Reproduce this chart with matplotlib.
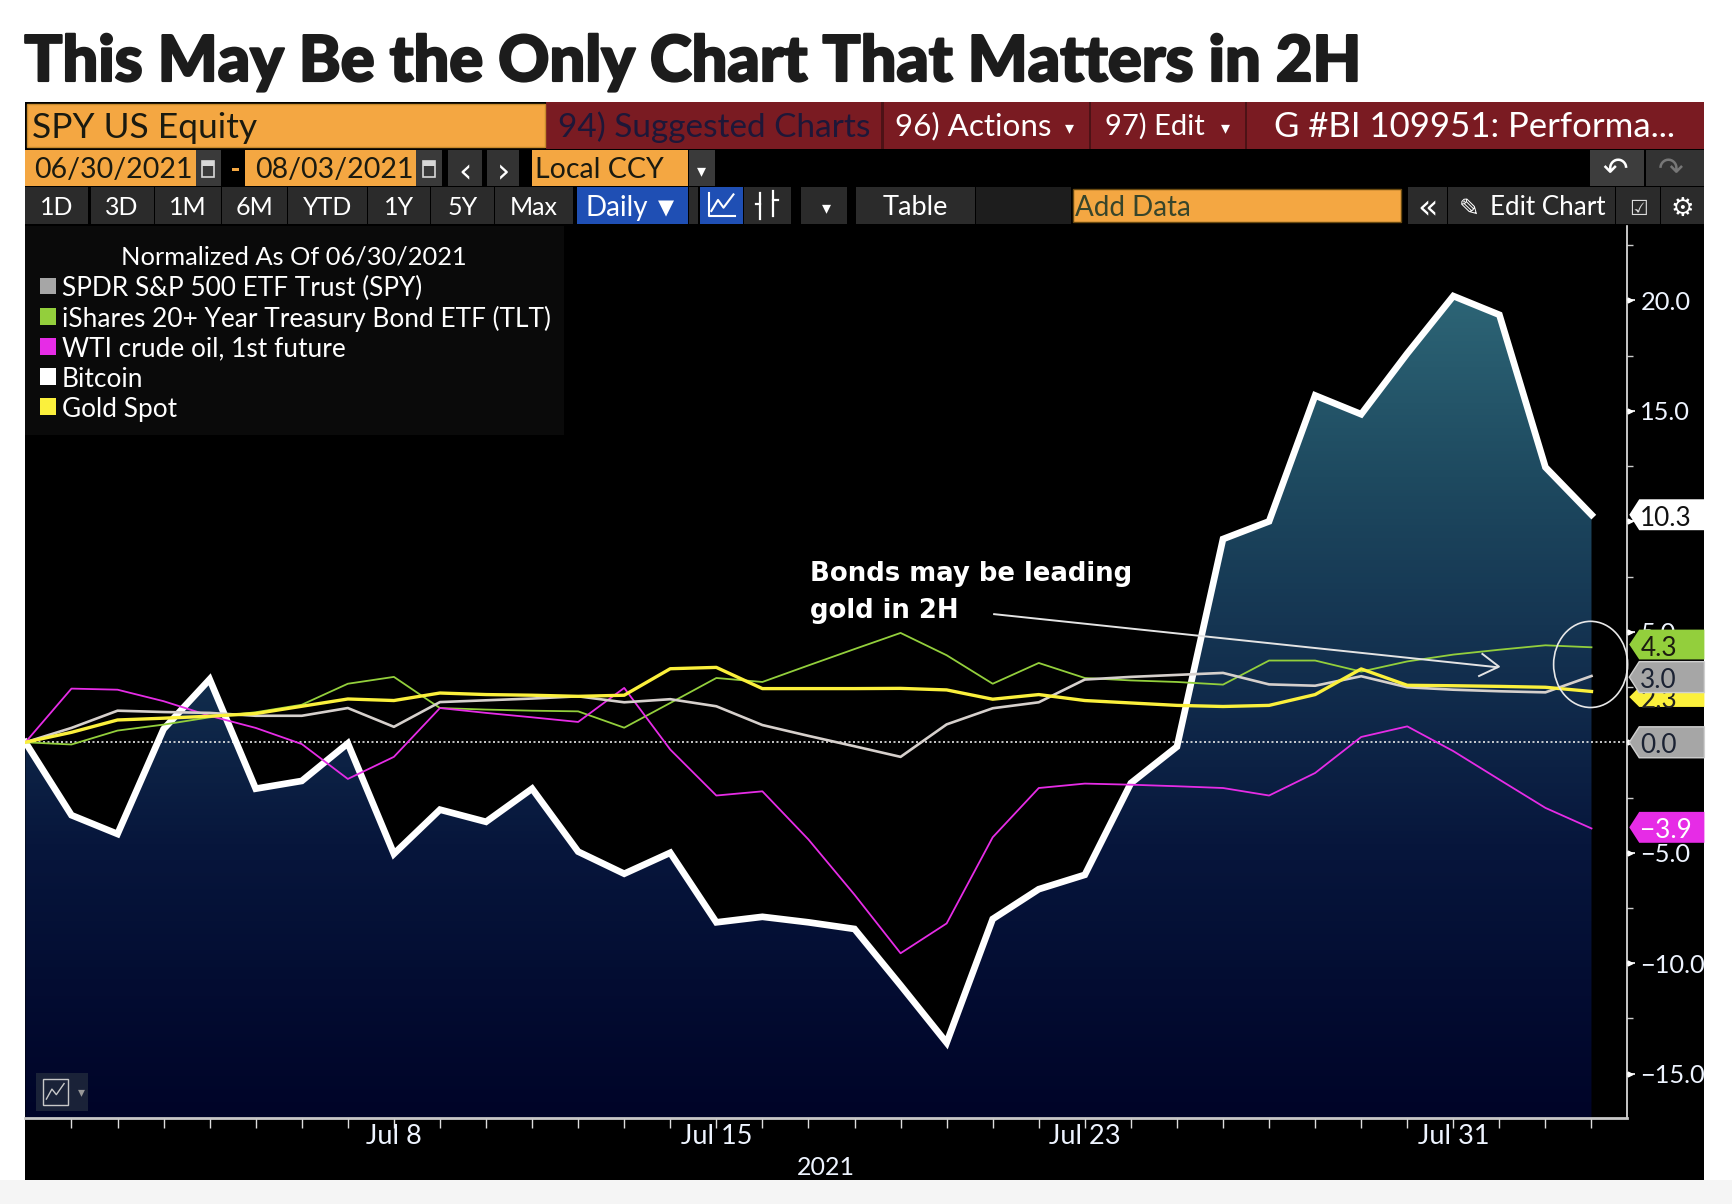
import numpy as np
import matplotlib
matplotlib.use('Agg')
import matplotlib.pyplot as plt
import matplotlib.patheffects as pe
from matplotlib.colors import LinearSegmentedColormap
from matplotlib.patches import Rectangle, Polygon, Ellipse

# days since 06/30/2021
days = np.arange(35)
bitcoin = [0, -3.3, -4.15, 0.6, 2.85, -2.1, -1.75, -0.05, -5.05, -3.05, -3.6, -2.1, -4.95, -5.95, -5.0,
           -8.15, -7.9, -8.15, -8.45, -11.0, -13.6, -8.0, -6.65, -6.0, -1.85, -0.2, 9.2, 10.0, 15.7,
           14.85, 17.6, 20.2, 19.35, 12.45, 10.3]
spy = [0, 0.65, 1.43, 1.37, 1.33, 1.2, 1.2, 1.55, 0.7, 1.82, 1.9, 1.98, 2.08, 1.81, 1.95,
       1.63, 0.78, 0.29, -0.18, -0.66, 0.81, 1.54, 1.81, 2.84, 2.96, 3.05, 3.14, 2.62, 2.56,
       2.99, 2.49, 2.38, 2.31, 2.26, 3.0]
tlt = [0, -0.1, 0.53, 0.8, 1.13, 1.36, 1.7, 2.65, 2.96, 1.55, 1.48, 1.43, 1.4, 0.66, 1.78,
       2.91, 2.73, 3.48, 4.22, 4.95, 3.94, 2.65, 3.59, 2.91, 2.8, 2.73, 2.61, 3.7, 3.7,
       3.2, 3.66, 3.97, 4.19, 4.39, 4.3]
wti = [0, 2.43, 2.38, 1.86, 1.2, 0.65, -0.08, -1.66, -0.66, 1.55, 1.33, 1.13, 0.92, 2.46, -0.33,
       -2.41, -2.22, -4.4, -6.9, -9.55, -8.2, -4.3, -2.07, -1.87, -1.92, -1.99, -2.07, -2.41, -1.39,
       0.24, 0.72, -0.4, -1.69, -2.97, -3.9]
gold = [0, 0.45, 1.01, 1.09, 1.18, 1.3, 1.63, 1.96, 1.89, 2.23, 2.16, 2.13, 2.08, 2.13, 3.33,
        3.39, 2.43, 2.43, 2.43, 2.44, 2.37, 1.95, 2.16, 1.89, 1.78, 1.67, 1.62, 1.67, 2.16,
        3.32, 2.58, 2.56, 2.53, 2.49, 2.3]

y_major = [20, 15, 10, 5, 0, -5, -10, -15]
y_minor = [22.5, 17.5, 12.5, 7.5, 2.5, -2.5, -7.5, -12.5]
y_labels = ['20.0', '15.0', '5.0', '\u22125.0', '\u221210.0', '\u221215.0']
y_label_vals = [20, 15, 5, -5, -10, -15]
x_tick_days = [8, 15, 23, 31]
x_tick_labels = ['Jul 8', 'Jul 15', 'Jul 23', 'Jul 31']

legend_names = ['SPDR S&P 500 ETF Trust (SPY)', 'iShares 20+ Year Treasury Bond ETF (TLT)',
                'WTI crude oil, 1st future', 'Bitcoin', 'Gold Spot']
range_buttons = ['1D', '3D', '1M', '6M', 'YTD', '1Y', '5Y', 'Max']

WHITE = '#ffffff'
GREY = '#a6a6a6'
GREEN = '#93cf3c'
MAGENTA = '#e62ce6'
YELLOW = '#fbf03c'
ORANGE = '#f4a742'
RED = '#7a1b22'
BTN = '#2b2b2b'
BLUE = '#1f4fb4'
UI_FONT = ['Lato', 'DejaVu Sans']

W, H = 1568.0, 1090.0  # layout coordinates, scaled to the output size

fig = plt.figure(figsize=(17.32, 12.04), dpi=100, facecolor='white')

# overlay for the terminal chrome, y goes down
ui = fig.add_axes([0, 0, 1, 1], zorder=0)
ui.set_xlim(0, W)
ui.set_ylim(H, 0)
ui.axis('off')

top = fig.add_axes([0, 0, 1, 1], zorder=5)
top.set_xlim(0, W)
top.set_ylim(H, 0)
top.axis('off')
top.patch.set_alpha(0)


def box(x0, x1, y0, y1, color, edge='none', lw=0, ax=ui, z=1):
    ax.add_patch(Rectangle((x0, y0), x1 - x0, y1 - y0, facecolor=color, edgecolor=edge, linewidth=lw, zorder=z))


def label(x, y, s, size=24, color=WHITE, ha='left', ax=ui, z=3, **kw):
    ax.text(x, y, s, fontsize=size, color=color, ha=ha, va='center_baseline', zorder=z,
            family=kw.pop('family', UI_FONT), **kw)


ui.add_patch(Rectangle((0, 1068), W, H - 1068, facecolor='#f5f5f5', edgecolor='none'))
box(23, 1543, 92, 1068, '#000000')
ui.text(22, 57, 'This May Be the Only Chart That Matters in 2H', fontsize=45.5, fontweight='black',
        color='#1c1c1c', family=['Lato', 'DejaVu Sans'], ha='left', va='center',
        path_effects=[pe.withStroke(linewidth=1.6, foreground='#1c1c1c')])

# row 1
box(494, 1543, 92, 135, RED)
box(24, 493, 94, 133, ORANGE, edge='#c88a2c', lw=1)
label(29, 113, 'SPY US Equity', size=25.5, color='#1a1a10')
label(505, 112, '94) Suggested Charts', size=24, color='#1e1738')
box(798, 800, 92, 135, '#4d1216')
box(986, 988, 92, 135, '#4d1216')
box(1127, 1129, 92, 135, '#4d1216')
label(810, 112, '96) Actions', size=22.6)
label(968, 114, '\u25be', size=13, ha='center', family=['DejaVu Sans'])
label(1000, 112, '97) Edit', size=21)
label(1109, 114, '\u25be', size=13, ha='center', family=['DejaVu Sans'])
label(1153, 112, 'G #BI 109951: Performa...', size=25)

# row 2
for x0, x1, s in [(23, 177, '06/30/2021'), (222, 377, '08/03/2021')]:
    box(x0, x1, 136, 168, ORANGE)
    label(31 if x0 == 23 else 231, 152, s, size=20.5, color='#1a1a10')
    box(x1, x1 + 23, 136, 168, '#3a3a3a')
    box(x1 + 6, x1 + 17, 146, 160, '#3a3a3a', edge='#d8d8d8', lw=1.2)
    box(x1 + 6, x1 + 17, 146, 150, '#d8d8d8')
box(210, 216, 152, 155, ORANGE)
box(406, 436, 136, 168, '#333333')
box(441, 470, 136, 168, '#333333')
label(421, 153, '\u2039', size=24, ha='center', family=['DejaVu Sans'])
label(456, 153, '\u203a', size=24, ha='center', family=['DejaVu Sans'])
box(482, 623, 136, 168, ORANGE)
label(484, 152, 'Local CCY', size=20.5, color='#1a1a10')
box(624, 647, 136, 168, '#3a3a3a')
label(635, 153, '\u25be', size=13, ha='center', family=['DejaVu Sans'])
box(1439, 1488, 136, 168, '#3d3d3d')
box(1490, 1543, 136, 168, '#333333')
label(1462, 152, '\u21b6', size=22, ha='center', family=['DejaVu Sans'])
label(1512, 152, '\u21b7', size=22, ha='center', color='#777777', family=['DejaVu Sans'])

# row 3
btn_edges = [(23, 80), (82, 139), (140, 200), (201, 260), (261, 332), (333, 389), (390, 447), (448, 519)]
for (x0, x1), s in zip(btn_edges, range_buttons):
    box(x0, x1, 169, 203, BTN)
    label((x0 + x1) / 2, 186, s, size=18, ha='center')
box(522, 623, 169, 203, BLUE)
label(530, 186, 'Daily', size=20)
label(603, 187, '\u25bc', size=15, ha='center', family=['DejaVu Sans'])
box(624, 632, 169, 203, BTN)
box(634, 673, 169, 203, BLUE)
ui.plot([642, 642, 665], [175, 196, 196], color=WHITE, lw=1.5, zorder=3)
ui.plot([644, 650, 655, 664], [191, 181, 188, 176], color=WHITE, lw=1.5, zorder=3)
box(674, 716, 169, 203, BTN)
ui.plot([688, 688], [175, 198], color=WHITE, lw=1.6, zorder=3)
ui.plot([700, 700], [173, 196], color=WHITE, lw=1.6, zorder=3)
ui.plot([684, 688], [185, 185], color=WHITE, lw=1.6, zorder=3)
ui.plot([700, 704], [181, 181], color=WHITE, lw=1.6, zorder=3)
box(725, 767, 169, 203, BTN)
label(748, 187, '\u25be', size=13, ha='center', family=['DejaVu Sans'])
box(775, 883, 169, 203, BTN)
label(829, 186, 'Table', size=19.5, ha='center')
box(884, 970, 169, 203, '#1d1d1d')
box(971, 1268, 171, 201, ORANGE, edge='#6a4a10', lw=1)
label(973, 186, 'Add Data', size=20, color='#37452b')
box(1275, 1310, 169, 203, BTN)
label(1292, 186, '\u00ab', size=24, ha='center', family=['DejaVu Sans'])
box(1311, 1462, 169, 203, BTN)
label(1330, 187, '\u270e', size=18, ha='center', family=['DejaVu Sans'])
label(1349, 186, 'Edit Chart', size=18.7)
box(1463, 1503, 169, 203, BTN)
label(1483, 187, '\u2611', size=15, ha='center', family=['DejaVu Sans'], color='#dddddd')
box(1504, 1543, 169, 203, BTN)
label(1523, 186, '\u2699', size=19, ha='center', family=['DejaVu Sans'])

# main chart, y axis is 20 layout px per unit, one day is 41.7 px
ax_l, ax_r, ax_t, ax_b = 23, 1473, 205, 1012
ax = fig.add_axes([ax_l / W, 1 - ax_b / H, (ax_r - ax_l) / W, (ax_b - ax_t) / H], zorder=2)
ax.set_facecolor('#000000')
ax.set_xlim(0, (ax_r - ax_l) / 41.7)
ax.set_ylim((672 - ax_b) / 20, (672 - ax_t) / 20)

cmap = LinearSegmentedColormap.from_list('area', [(0.0, '#000428'), (0.33, '#07163c'), (0.52, '#112c4c'),
                                                  (0.78, '#1e4a60'), (1.0, '#2d6576')])
poly = ax.fill_between(days, bitcoin, ax.get_ylim()[0], color='none')
grad = ax.imshow(np.linspace(1, 0, 256).reshape(-1, 1), cmap=cmap, aspect='auto',
                 extent=[0, 34, ax.get_ylim()[0], 20.3], zorder=1)
grad.set_clip_path(poly.get_paths()[0], transform=ax.transData)
ax.set_xlim(0, (ax_r - ax_l) / 41.7)
ax.set_ylim((672 - ax_b) / 20, (672 - ax_t) / 20)

ax.axhline(0, color='#e8e8e8', lw=1.2, ls=(0, (1.2, 1.5)), zorder=2)
ax.plot(days, bitcoin, color=WHITE, lw=4.8, zorder=3, solid_joinstyle='miter')
ax.plot(days, tlt, color=GREEN, lw=1.3, zorder=4)
ax.plot(days, wti, color=MAGENTA, lw=1.3, zorder=4)
ax.plot(days, spy, color='#d6d0cc', lw=1.9, zorder=5)
ax.plot(days, gold, color=YELLOW, lw=2.4, zorder=6)

for s in ['top', 'left']:
    ax.spines[s].set_visible(False)
ax.spines['right'].set_color('#e8e8e8')
ax.spines['right'].set_linewidth(1.2)
ax.spines['bottom'].set_color('#c8c8c8')
ax.spines['bottom'].set_linewidth(2)
ax.yaxis.tick_right()
ax.set_yticks(y_major)
ax.set_yticks(y_minor, minor=True)
ax.set_yticklabels([])
ax.tick_params(axis='y', which='major', length=6, width=1.2, color=WHITE)
ax.tick_params(axis='y', which='minor', length=4, width=1.0, color='#cccccc')
ax.plot([ax.get_xlim()[1] + 0.07] * len(y_major), y_major, ls='none', marker='>', ms=3.5, color=WHITE,
        clip_on=False, zorder=7)
ax.set_xticks(days[1:])
ax.set_xticklabels([])
ax.tick_params(axis='x', which='major', length=7, width=1.0, color='#dddddd')

for val, s in zip(y_label_vals, y_labels):
    label(1485, 672 - val * 20, s, size=18.3, color='#eef4ff', ax=top, z=1)
for d, s in zip(x_tick_days, x_tick_labels):
    label(23 + d * 41.7, 1027, s, size=19.5, ha='center', color='#eef4ff', ax=top)
label(748, 1055, '2021', size=18, ha='center', color='#eef4ff', ax=top)

# legend panel
box(23, 511, 205, 394, '#0a0a0a', ax=top, z=1)
label(266, 231, 'Normalized As Of 06/30/2021', size=18.3, ha='center', ax=top)
swatches = [GREY, GREEN, MAGENTA, WHITE, YELLOW]
for i, (c, s) in enumerate(zip(swatches, legend_names)):
    y = 259 + i * 27.3
    box(36, 51, y - 7.5, y + 7.5, c, ax=top, z=2)
    label(56, y, s, size=18.9, ax=top)

# annotation and arrow
top.text(733, 520, 'Bonds may be leading', fontsize=18.7, fontweight='bold', color=WHITE, va='center', zorder=4)
top.text(733, 553, 'gold in 2H', fontsize=18.7, fontweight='bold', color=WHITE, va='center', zorder=4)
top.plot([900, 1355], [556, 604], color='#e4e4e4', lw=1.4, zorder=4)
top.plot([1342, 1357, 1339], [592, 603.5, 612], color='#e4e4e4', lw=1.4, zorder=4)

# last value tags, later ones sit on top
tags = [(452, 480, WHITE, '10.3', '#111111'), (622, 640, YELLOW, '2.3', '#222222'),
        (570, 597, GREEN, '4.3', '#1c1c10'), (599, 627, GREY, '3.0', '#1b2233'),
        (658, 686, GREY, '0.0', '#1b2233'), (735, 763, MAGENTA, '\u22123.9', WHITE)]
top.add_patch(Ellipse((1440, 601.5), 67, 78, fill=False, edgecolor='#e8e8e8', lw=1.2, zorder=4))
for i, (y0, y1, c, s, tc) in enumerate(tags):
    mid = (y0 + y1) / 2
    edge = '#d0d0d0' if c == GREY else 'none'
    top.add_patch(Polygon([(1475, mid), (1484, y0), (1543, y0), (1543, y1), (1484, y1)],
                          facecolor=c, edgecolor=edge, linewidth=1, zorder=5 + i))
    label(1485, mid + 1, s, size=18.8, color=tc, ax=top, z=5 + i)

# series type button in the corner
box(33, 80, 971, 1006, '#1a2238', ax=top, z=1)
box(39, 62, 977, 1000, '#1a2238', edge='#c8c8c8', lw=1, ax=top, z=2)
top.plot([42, 47, 51, 58], [995, 986, 991, 981], color='#c8c8c8', lw=1, zorder=3)
label(74, 987, '\u25be', size=10, ha='center', color='#999999', family=['DejaVu Sans'], ax=top)

fig.savefig('out.png', dpi=100)
plt.close(fig)
